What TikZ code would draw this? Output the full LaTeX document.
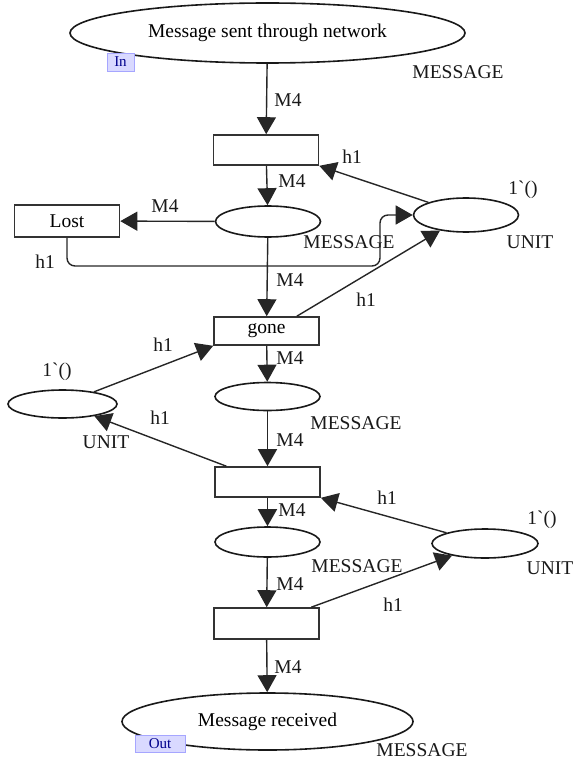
\documentclass[tikz,border=0pt]{standalone}
\usepackage{fontspec}
\setmainfont{Liberation Serif}
\usetikzlibrary{shapes.geometric,arrows.meta}
\begin{document}
\begin{tikzpicture}[x=1pt,y=-1pt,
    font=\fontsize{19.5}{22}\selectfont,
    place/.style={ellipse,draw=black!90,line width=1.6pt,inner sep=0pt,
      minimum width=105pt,minimum height=30pt},
    trans/.style={rectangle,draw=black!80,line width=1.6pt,inner sep=0pt,
      minimum width=105pt,minimum height=30pt},
    port/.style={draw=blue!35,fill=blue!15,text=blue!55!black,inner sep=0pt,
      font=\fontsize{15}{16}\selectfont},
    lbl/.style={inner sep=0pt,text=black!90},
    arc/.style={line width=1.4pt,draw=black!85,-{Triangle[length=17pt,width=19pt]}}]
  \useasboundingbox (0,0) rectangle (575,762);
  \draw
    (267.5,33) node[place,minimum width=395pt,minimum height=60pt] (send){Message sent through network}
    (266,150) node[trans] (t1){}
    (67,221) node[trans,minimum height=32pt] (lost){Lost}
    (268,221.5) node[place,minimum height=31pt] (p1){}
    (466,215) node[place,minimum height=34pt] (u1){}
    (266.5,331) node[trans,minimum height=28pt] (gone){gone}
    (62.5,404) node[place,minimum width=109pt,minimum height=28pt] (u2){}
    (267.5,396.5) node[place,minimum height=28pt] (p2){}
    (267.5,482) node[trans] (t3){}
    (267.5,542) node[place] (p3){}
    (485,543.5) node[place,minimum width=106pt,minimum height=29pt] (u3){}
    (266.5,623.5) node[trans,minimum height=31pt] (t4){}
    (267.5,721.5) node[place,minimum width=291pt,minimum height=57pt] (recv){Message received}
    (120.5,62) node[port,minimum width=27pt,minimum height=18pt] (in){In}
    (160,743.5) node[port,minimum width=50pt,minimum height=17pt] (out){Out};
  \coordinate (bend) at (380,266);
  \draw
    (458,72) node[lbl] (ty0){MESSAGE}
    (349,242) node[lbl] (ty1){MESSAGE}
    (356,423) node[lbl] (ty2){MESSAGE}
    (357,566) node[lbl] (ty3){MESSAGE}
    (422,750) node[lbl] (ty4){MESSAGE}
    (523,190) node[lbl] (init1){1\textasciigrave()}
    (530,242) node[lbl] (ty5){UNIT}
    (57,372) node[lbl] (init2){1\textasciigrave()}
    (106,442) node[lbl] (ty6){UNIT}
    (542,520) node[lbl] (init3){1\textasciigrave()}
    (550,568) node[lbl] (ty7){UNIT}
    (288,100) node[lbl] (m1){M4}
    (292,181) node[lbl] (m2){M4}
    (165,206) node[lbl] (m3){M4}
    (290,280) node[lbl] (m4){M4}
    (290,358) node[lbl] (m5){M4}
    (290,440) node[lbl] (m6){M4}
    (292,510) node[lbl] (m7){M4}
    (290,584) node[lbl] (m8){M4}
    (288,667) node[lbl] (m9){M4}
    (352,157) node[lbl] (h1){h1}
    (45,262) node[lbl] (h2){h1}
    (366,300) node[lbl] (h3){h1}
    (163,345) node[lbl] (h4){h1}
    (160,418) node[lbl] (h5){h1}
    (387,498) node[lbl] (h6){h1}
    (393,605) node[lbl] (h7){h1};
  \begin{scope}[arc]
    \draw (send) to (t1);
    \draw (t1) to (p1);
    \draw (p1) to (lost);
    \draw[rounded corners=8pt] (lost.south) |- (bend) |- (u1.west);
    \draw (u1) to (t1.south east);
    \draw (p1) to (gone);
    \draw (gone.26) to (u1);
    \draw (u2) to (gone.south west);
    \draw (gone) to (p2);
    \draw (p2) to (t3);
    \draw (t3.159) to (u2);
    \draw (t3) to (p3);
    \draw (u3) to (t3.south east);
    \draw (p3) to (t4);
    \draw (t4.20) to (u3);
    \draw (t4) to (recv);
  \end{scope}
\end{tikzpicture}
\end{document}
